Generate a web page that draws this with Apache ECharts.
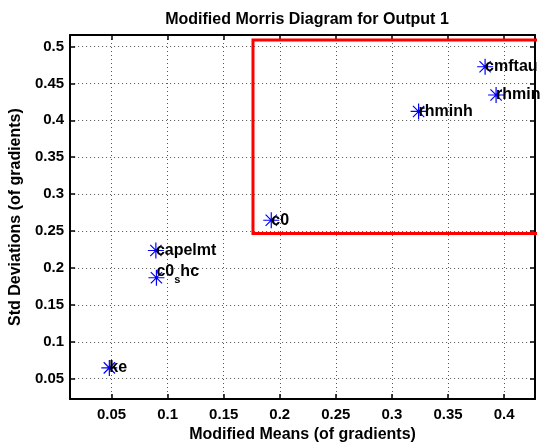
<!DOCTYPE html>
<html>
<head>
<meta charset="utf-8">
<script src="https://cdn.jsdelivr.net/npm/echarts@6/dist/echarts.min.js"></script>
<style>
    html, body { margin: 0; padding: 0; background: #fff; }
    #chart { width: 546px; height: 448px; }
</style>
</head>
<body>
<div id="chart"></div>
<script>
    'use strict';

    // morris screening results
    var labels = ['ke', 'capelmt', 'c0_shc', 'c0', 'rhminh', 'cmftau', 'rhmin'];
    var means = [0.048, 0.0895, 0.090, 0.1924, 0.3238, 0.3831, 0.3929];
    var stds = [0.0646, 0.2236, 0.1867, 0.2646, 0.412, 0.4726, 0.4343];

    // highlight box (open on the right side)
    var boxX = [0.6, 0.1761, 0.1761, 0.6];
    var boxY = [0.5087, 0.5087, 0.2465, 0.2465];

    var xRange = [0.013, 0.4276];
    var yRange = [0.0223, 0.5156];

    var font = '"Liberation Sans", Arial, Helvetica, sans-serif';
    var star = 'path://M8,0L8,16M0,8L16,8M2.35,2.35L13.65,13.65M2.35,13.65L13.65,2.35';

    var points = labels.map(function (name, i) {
        var item = { value: [means[i], stds[i]] };
        if (name.indexOf('_') >= 0) {
            item.label = { offset: [0, 2] };
        }
        return item;
    });

    var box = boxX.map(function (x, i) {
        return [x, boxY[i]];
    });

    // tex style subscript, like matlab does with "_"
    var labelText = function (p) {
        var n = labels[p.dataIndex];
        var k = n.indexOf('_');
        if (k < 0) {
            return n;
        }
        return '{m|' + n.slice(0, k) + '}{s|' + n.charAt(k + 1) + '}{m|' + n.slice(k + 2) + '}';
    };

    var hideEnds = function (v) {
        var r = Math.round(v * 100) / 100;
        if (Math.abs(r - v) > 1e-6) {
            return '';
        }
        return String(r);
    };

    var axisFont = { fontFamily: font, fontSize: 15, fontWeight: 'bold', color: '#000' };
    var nameFont = { fontFamily: font, fontSize: 16, fontWeight: 'bold', color: '#000' };
    var axisLine = { show: true, onZero: false, lineStyle: { color: '#000', width: 2 } };
    var axisTick = { show: true, inside: true, length: 5, lineStyle: { color: '#000', width: 1.5 } };
    var gridLine = { show: true, lineStyle: { color: '#555', width: 1, type: [1, 3] } };
    var txt = { fontFamily: font, fontWeight: 'bold', color: '#000', textBorderWidth: 0, textShadowBlur: 0 };

    // second axis on the opposite side to close the box, matlab style
    var mirror = function (pos, range, n) {
        return {
            type: 'value',
            position: pos,
            min: range[0],
            max: range[1],
            splitNumber: n,
            axisLine: axisLine,
            axisTick: axisTick,
            axisLabel: { show: false },
            splitLine: { show: false }
        };
    };

    var myChart = echarts.init(document.getElementById('chart'), null, { renderer: 'canvas' });

    var option = {
        backgroundColor: '#fff',
        animation: false,
        title: {
            text: 'Modified Morris Diagram for Output 1',
            left: 302,
            top: 7,
            textAlign: 'center',
            textStyle: nameFont
        },
        grid: { left: 69, right: 11, top: 35, bottom: 43 },
        xAxis: [
            {
                type: 'value',
                position: 'bottom',
                min: xRange[0],
                max: xRange[1],
                splitNumber: 8,
                name: 'Modified Means (of gradients)',
                nameLocation: 'middle',
                nameGap: 25,
                nameTextStyle: nameFont,
                axisLine: axisLine,
                axisTick: axisTick,
                axisLabel: Object.assign({ margin: 8, formatter: hideEnds }, axisFont),
                splitLine: gridLine
            },
            mirror('top', xRange, 8)
        ],
        yAxis: [
            {
                type: 'value',
                position: 'left',
                min: yRange[0],
                max: yRange[1],
                splitNumber: 10,
                name: 'Std Deviations (of gradients)',
                nameLocation: 'middle',
                nameGap: 43,
                nameTextStyle: nameFont,
                axisLine: axisLine,
                axisTick: axisTick,
                axisLabel: Object.assign({ margin: 6, formatter: hideEnds }, axisFont),
                splitLine: gridLine
            },
            mirror('right', yRange, 10)
        ],
        series: [
            {
                name: 'morris',
                type: 'scatter',
                data: points,
                symbol: star,
                symbolSize: 16,
                itemStyle: { color: 'none', borderColor: '#0000ff', borderWidth: 1.2, opacity: 1 },
                label: Object.assign({
                    show: true,
                    position: ['50%', '50%'],
                    align: 'left',
                    verticalAlign: 'middle',
                    fontSize: 16,
                    formatter: labelText,
                    rich: {
                        m: Object.assign({ fontSize: 16, lineHeight: 16, verticalAlign: 'top' }, txt),
                        s: Object.assign({ fontSize: 11, lineHeight: 32, verticalAlign: 'middle' }, txt)
                    }
                }, txt),
                emphasis: { disabled: true },
                z: 3
            },
            {
                name: 'box',
                type: 'line',
                data: box,
                clip: false,
                silent: true,
                symbol: 'none',
                lineStyle: { color: '#ff0000', width: 3, join: 'miter' },
                z: 4
            }
        ]
    };

    myChart.setOption(option);
</script>
</body>
</html>
